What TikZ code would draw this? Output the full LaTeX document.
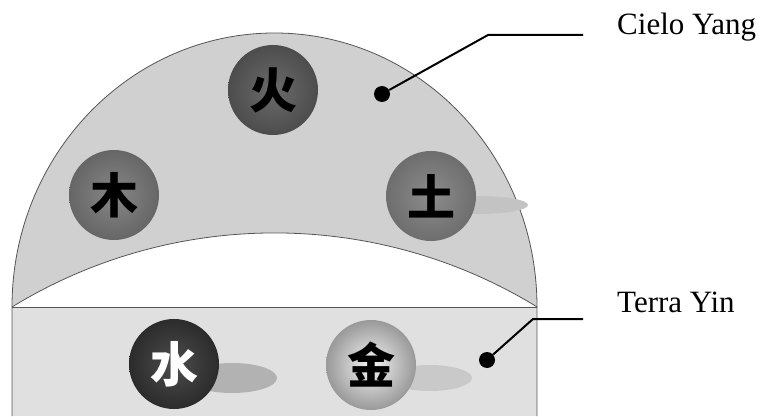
\documentclass[tikz,border=0pt]{standalone}
\usepackage{fontspec}
\setmainfont{Liberation Serif}
\newfontfamily\cjk{Noto Sans CJK SC}
\usetikzlibrary{positioning,calc}
\definecolor{skyGray}   {RGB}{208,208,208}
\definecolor{earthGray} {RGB}{224,224,224}
\definecolor{rimGray}   {RGB}{85, 85, 85}
\definecolor{shadowGray}{RGB}{178,178,178}

\tikzset{
  element/.style={circle,minimum size=90pt,inner sep=0pt,
    font=\cjk\bfseries\fontsize{48}{48}\selectfont},
  pin dot/.style={circle,fill=black,minimum size=16pt,inner sep=0pt},
  leader/.style={line width=2pt},
  partlabel/.style={anchor=base west,inner sep=0pt,
    font=\fontsize{31}{37}\selectfont},
  rim/.style={rimGray,line width=0.8pt}
}

\begin{document}
\begin{tikzpicture}[x=1pt,y=1pt]
  \useasboundingbox (0,0) rectangle (761,416);

  % Terra: lower band
  \fill[earthGray] (12,0) rectangle (537,109);
  % Cielo: dome, with the white lens cut out
  \fill[skyGray] (12,109) arc[start angle=180,end angle=0,x radius=262.5,y radius=274] -- cycle;
  \fill[white] (12,109) arc[start angle=121.5,end angle=58.5,radius=502.6] -- cycle;
  \draw[rim] (12,0) -- (12,109) arc[start angle=180,end angle=0,x radius=262.5,y radius=274] -- (537,0);
  \draw[rim] (12,109) -- (537,109);
  \draw[rim] (12,109) arc[start angle=121.5,end angle=58.5,radius=502.6];

  % shadows
  \fill[shadowGray] (232,38) ellipse[x radius=45,y radius=15];
  \fill[shadowGray!70] (430,38) ellipse[x radius=42,y radius=13];
  \fill[shadowGray!45!skyGray] (478,211) ellipse[x radius=50,y radius=9];

  % elements
  \foreach \elem/\glyph/\px/\py/\core/\edge/\ink in {
      fire/火/273/326/58/70/black, wood/木/114/221/47/60/black,
      earth/土/431/220/45/57/black, water/水/174/52/70/83/white,
      metal/金/371/51/4/40/black}{
    \node[element,inner color=black!\core,outer color=black!\edge,text=\ink]
      (\elem) at (\px,\py) {\glyph};
  }

  % Cielo Yang
  \node[pin dot] (dotYang) at (382,322) {};
  \coordinate (bendYang) at (488,381);
  \coordinate (endYang) at (583,381);
  \draw[leader] (dotYang) -- (bendYang) -- (endYang);
  \node[partlabel] (textYang) at (617,381) {Cielo Yang};

  % Terra Yin
  \node[pin dot] (dotYin) at (487,56) {};
  \coordinate (bendYin) at (533,97);
  \coordinate (endYin) at (583,97);
  \draw[leader] (dotYin) -- (bendYin) -- (endYin);
  \node[partlabel] (textYin) at (617,104) {Terra Yin};
\end{tikzpicture}
\end{document}
